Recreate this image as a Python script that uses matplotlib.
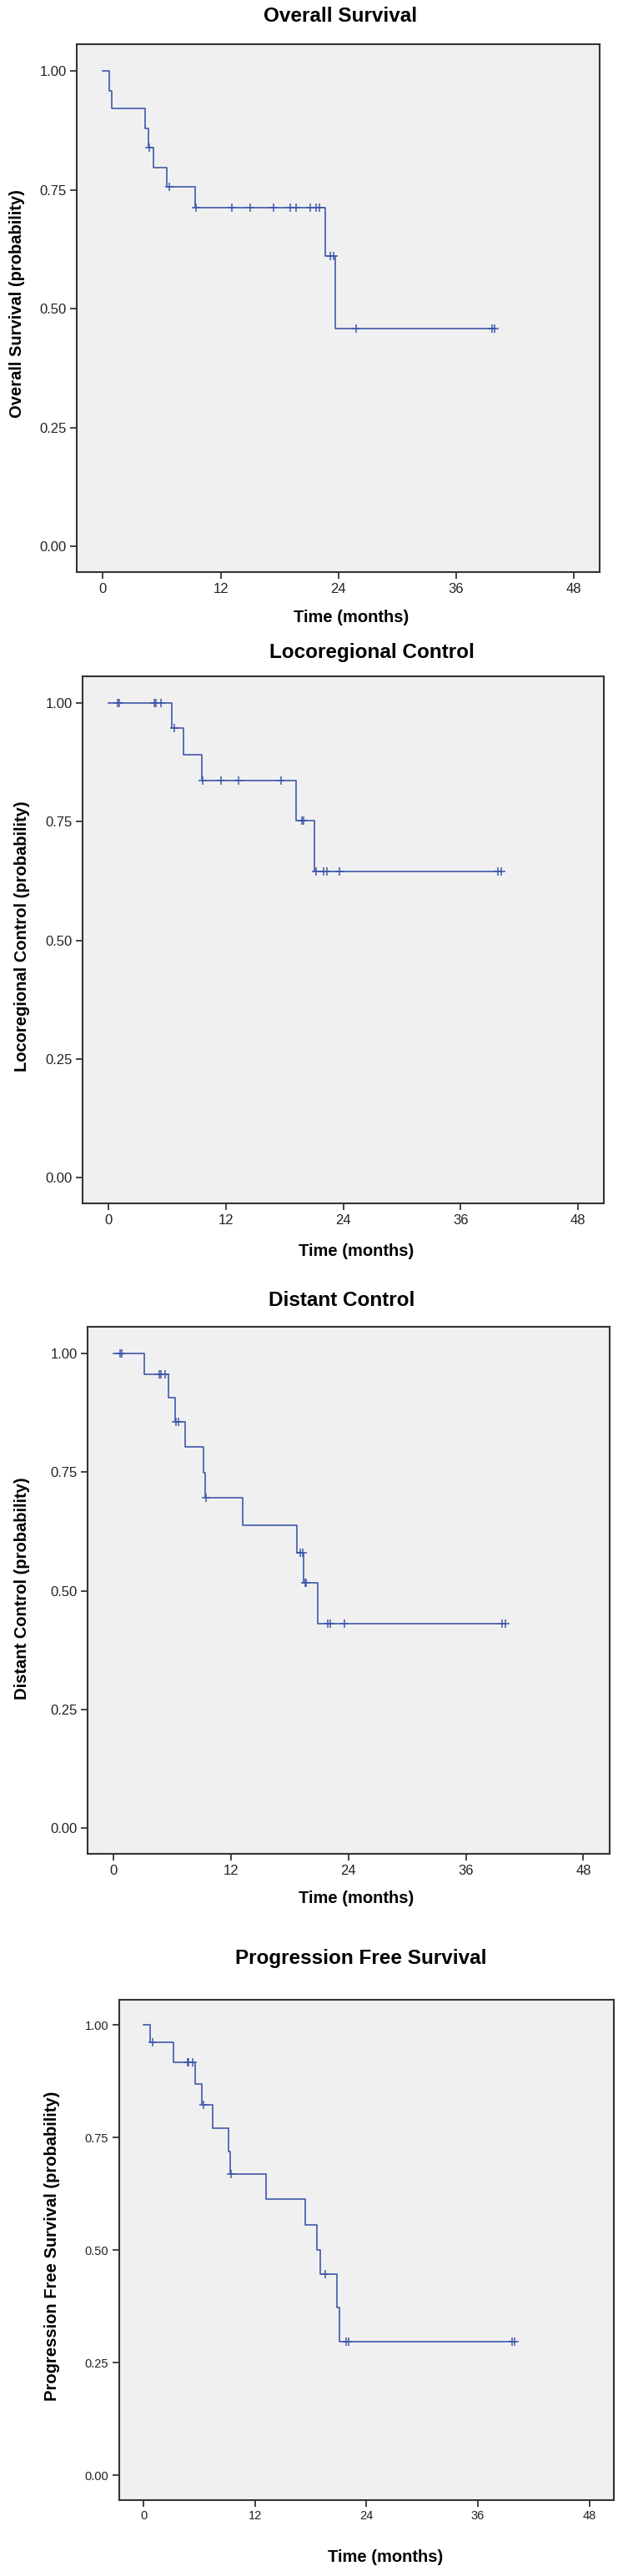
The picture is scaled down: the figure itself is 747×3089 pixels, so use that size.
import numpy as np
import matplotlib
matplotlib.use('Agg')
import matplotlib.pyplot as plt

plt.rcParams['font.family'] = ['Liberation Sans', 'DejaVu Sans']

# Overall survival (event times, survival after each event, censored times)
os_times = [0.68, 0.89, 4.32, 4.63, 5.17, 6.51, 9.38, 22.65, 23.65]
os_surv = [0.958, 0.921, 0.879, 0.840, 0.798, 0.757, 0.712, 0.611, 0.458]
os_cens = [4.75, 6.79, 9.44, 13.16, 14.98, 17.42, 19.1, 19.67, 21.09, 21.74,
           22.03, 23.2, 23.5, 25.8, 39.65, 39.95]

# Locoregional control
lc_times = [6.46, 7.63, 9.57, 19.2, 21.07]
lc_surv = [0.948, 0.892, 0.836, 0.752, 0.645]
lc_cens = [0.89, 1.09, 4.64, 4.84, 5.33, 6.7, 9.65, 11.5, 13.3, 17.6, 19.75,
           19.9, 21.2, 21.96, 22.3, 23.6, 39.8, 40.1]

# Distant control
dc_times = [3.13, 5.57, 6.26, 7.32, 9.19, 9.39, 13.17, 18.7, 19.43, 20.9]
dc_surv = [0.956, 0.907, 0.856, 0.803, 0.749, 0.696, 0.638, 0.580, 0.516, 0.430]
dc_cens = [0.65, 0.85, 4.63, 4.84, 5.24, 6.4, 6.6, 9.43, 19.1, 19.3, 19.55,
           19.7, 21.9, 22.15, 23.6, 39.7, 40.0]

# Progression free survival
pfs_times = [0.68, 3.2, 5.56, 6.28, 7.48, 9.15, 9.32, 13.16, 17.4, 18.68, 19.0,
             20.8, 21.07]
pfs_surv = [0.961, 0.917, 0.870, 0.822, 0.771, 0.720, 0.669, 0.613, 0.556,
            0.501, 0.446, 0.372, 0.297]
pfs_cens = [0.98, 4.7, 4.87, 5.3, 6.45, 9.44, 19.57, 21.8, 22.1, 39.66, 40.0]

titles = ['Overall Survival', 'Locoregional Control', 'Distant Control',
          'Progression Free Survival']
ylabels = ['Overall Survival (probability)', 'Locoregional Control (probability)',
           'Distant Control (probability)', 'Progression Free Survival (probability)']
xticks = [0, 12, 24, 36, 48]
yticks = [0.0, 0.25, 0.5, 0.75, 1.0]

curves = [(os_times, os_surv, os_cens), (lc_times, lc_surv, lc_cens),
          (dc_times, dc_surv, dc_cens), (pfs_times, pfs_surv, pfs_cens)]

W, H = 747, 3089
# frame boxes in pixels: x0, x1, y0, y1
boxes = [(92.3, 719.3, 53, 686.3), (99, 724.3, 810.7, 1443.3),
         (105.2, 730.5, 1591, 2223), (142.7, 736, 2397.7, 2997.7)]
title_pos = [(408, 20), (446, 782), (410, 1559), (433, 2348)]
xlab_pos = [(421, 740), (427, 1500), (427, 2277), (462, 3066)]
ylab_pos = [(20.5, 364), (26.7, 1123), (26.7, 1905), (62.4, 2693)]
tick_size = [12, 12, 12, 10.5]

line_col = '#3f58aa'

fig = plt.figure(figsize=(W / 100, H / 100), dpi=100)

for i in range(4):
    x0, x1, y0, y1 = boxes[i]
    ax = fig.add_axes([x0 / W, 1 - y1 / H, (x1 - x0) / W, (y1 - y0) / H])
    ax.set_facecolor('#f0f0f0')

    times, surv, cens = curves[i]
    xs = [0] + times + [max(cens)]
    ys = [1.0] + surv + [surv[-1]]
    ax.step(xs, ys, where='post', color=line_col, lw=1.2)

    # censored marks sit on the curve
    levels = np.array([1.0] + surv)
    idx = np.searchsorted(times, cens, side='right')
    ax.plot(cens, levels[idx], linestyle='none', marker='+', color=line_col,
            markersize=6.5, mew=1.1)

    ax.set_xlim(-2.65, 50.65)
    ax.set_ylim(-0.055, 1.057)
    ax.set_xticks(xticks)
    ax.set_yticks(yticks)
    ax.set_xticklabels([str(t) for t in xticks])
    ax.set_yticklabels(['%.2f' % v for v in yticks])
    ax.tick_params(length=6, width=1.2, color='#222222', pad=3,
                   labelsize=tick_size[i], labelcolor='#222222')
    for s in ax.spines.values():
        s.set_linewidth(1.5)
        s.set_color('#333333')

    tx, ty = title_pos[i]
    fig.text(tx / W, 1 - ty / H, titles[i], ha='center', va='center',
             fontsize=17.5, fontweight='bold')
    lx, ly = xlab_pos[i]
    fig.text(lx / W, 1 - ly / H, 'Time (months)', ha='center', va='center',
             fontsize=14.5, fontweight='bold')
    yx, yy = ylab_pos[i]
    fig.text(yx / W, 1 - yy / H, ylabels[i], ha='center', va='center',
             rotation=90, fontsize=14.5, fontweight='bold')

fig.savefig('out.png', dpi=100)
